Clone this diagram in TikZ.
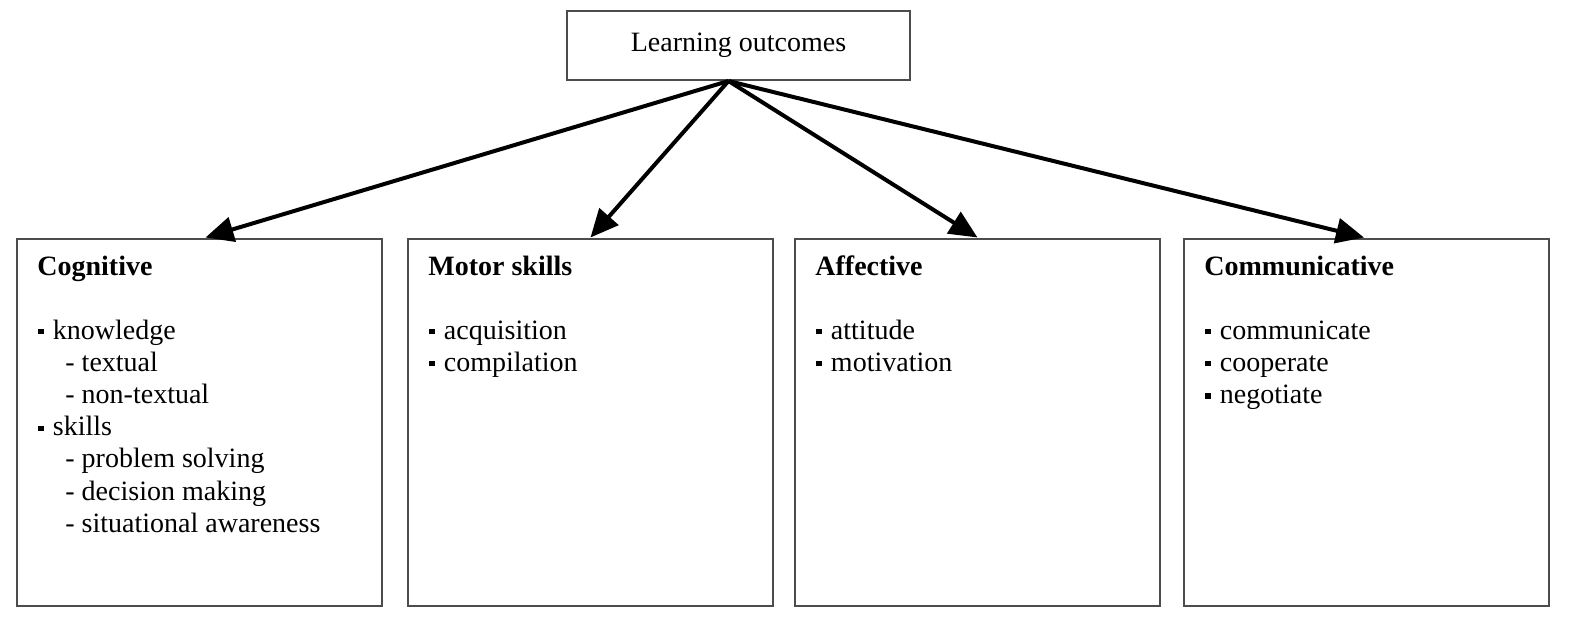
\documentclass[tikz,border=0pt]{standalone}
\usepackage{fontspec}
\setmainfont{Liberation Serif}
\usetikzlibrary{arrows.meta, positioning, calc}
\newcommand{\sqb}{\rule[0.17em]{0.19em}{0.19em}\hspace{0.33em}}

\begin{document}
\begin{tikzpicture}[x=0.5pt,y=-0.5pt,
  every node/.style={font=\fontsize{14}{16}\selectfont, inner sep=0pt},
  topbox/.style={draw=black!70, line width=1pt, minimum width=171.5pt, minimum height=34.5pt},
  outbox/.style={draw=black!70, line width=1pt, minimum width=182.5pt, minimum height=183.5pt},
  head/.style={anchor=base west, font=\fontsize{14}{16}\selectfont\bfseries},
  entry/.style={anchor=base west},
  link/.style={-{Triangle[length=14pt,width=12.5pt]}, line width=2pt}]
\useasboundingbox (0,0) rectangle (1570,618);

% Top
\node[topbox] (lo) at (738.5,45.5) {Learning outcomes};
\coordinate (src) at ($(lo.south)+(-10,0)$);

% Boxes
\node[outbox] (cog) at (199.5,422) {};
\node[outbox] (mot) at (590.5,422) {};
\node[outbox] (aff) at (977.5,422) {};
\node[outbox] (com) at (1366,422) {};

% Cognitive
\begin{scope}[shift={(17,0)}]
\node[head] (cogT) at (20,275) {Cognitive};
\foreach \dx/\t [count=\i] in {21/\sqb knowledge, 48/- textual, 48/- non-textual,
    21/\sqb skills, 48/- problem solving, 48/- decision making, 48/- situational awareness} {
    \node[entry] (cog-\i) at (\dx,{339+(\i-1)*32.2}) {\t};
}
\end{scope}

% Motor skills
\begin{scope}[shift={(408,0)}]
\node[head] (motT) at (20,275) {Motor skills};
\foreach \t [count=\i] in {acquisition, compilation} {
    \node[entry] (mot-\i) at (21,{339+(\i-1)*32.2}) {\sqb\t};
}
\end{scope}

% Affective
\begin{scope}[shift={(795,0)}]
\node[head] (affT) at (20,275) {Affective};
\foreach \t [count=\i] in {attitude, motivation} {
    \node[entry] (aff-\i) at (21,{339+(\i-1)*32.2}) {\sqb\t};
}
\end{scope}

% Communicative
\begin{scope}[shift={(1184,0)}]
\node[head] (comT) at (20,275) {Communicative};
\foreach \t [count=\i] in {communicate, cooperate, negotiate} {
    \node[entry] (com-\i) at (21,{339+(\i-1)*32.2}) {\sqb\t};
}
\end{scope}

% Arrows
\draw[link] (src) -- ([xshift=3pt]cog.north);
\draw[link] (src) -- (mot.north);
\draw[link] (src) -- (aff.north);
\draw[link] (src) -- ([xshift=-1pt]com.north);
\end{tikzpicture}
\end{document}
